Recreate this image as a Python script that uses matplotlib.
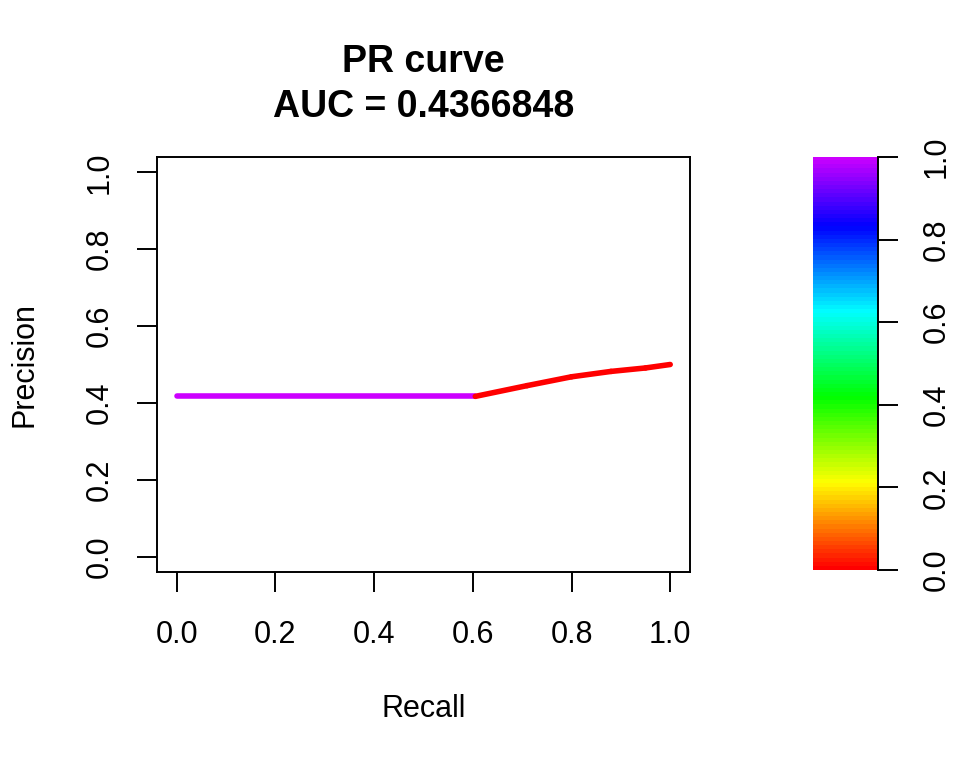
import numpy as np
import matplotlib
matplotlib.use("Agg")
import matplotlib.pyplot as plt
from matplotlib.collections import LineCollection
from matplotlib.colors import ListedColormap, hsv_to_rgb

plt.rcParams['font.family'] = ['Liberation Sans', 'DejaVu Sans']

# puntos de la curva PR
recall = [0.0, 0.605, 0.71, 0.80, 0.88, 0.95, 1.0]
precision = [0.417, 0.417, 0.445, 0.468, 0.482, 0.491, 0.500]
# umbral de cada segmento (color)
umbral = [1.0, 0.0, 0.0, 0.0, 0.0, 0.0]
auc = 0.4366848

ticks = [0.0, 0.2, 0.4, 0.6, 0.8, 1.0]
tick_labels = ['0.0', '0.2', '0.4', '0.6', '0.8', '1.0']

# paleta tipo rainbow de R (hue 0 -> 0.8)
n_col = 100
hues = np.linspace(0, 0.8, n_col)
paleta = ListedColormap(hsv_to_rgb(np.column_stack([hues, np.ones(n_col), np.ones(n_col)])))

fs = 22

fig = plt.figure(figsize=(9.6, 7.68), dpi=100)
ax = fig.add_axes([0.1635, 0.2552, 0.5552, 0.5404])

pts = np.column_stack([recall, precision])
segs = np.stack([pts[:-1], pts[1:]], axis=1)
lc = LineCollection(segs, colors=paleta(np.array(umbral)), linewidths=4, capstyle='round')
ax.add_collection(lc)

ax.set_xlim(-0.04, 1.04)
ax.set_ylim(-0.04, 1.04)
ax.set_xticks(ticks, tick_labels)
ax.set_yticks(ticks, tick_labels)
for lab in ax.get_yticklabels():
    lab.set_rotation(90)
    lab.set_va('center')
ax.tick_params(length=14.5, width=1.4, labelsize=fs)
ax.tick_params(axis='x', pad=20)
ax.tick_params(axis='y', pad=16)
for s in ax.spines.values():
    s.set_linewidth(1.4)

ax.set_xlabel('Recall', fontsize=fs)
ax.xaxis.label.set_va('center')
ax.xaxis.set_label_coords(0.5, -0.33)
ax.set_ylabel('Precision', fontsize=fs)
ax.yaxis.label.set_va('center')
ax.yaxis.set_label_coords(-0.2477, 0.5)

ax.set_title(f'PR curve\nAUC = {auc}', fontsize=27, fontweight='bold', pad=29, linespacing=1.32)

# barra de color
cax = fig.add_axes([0.847, 0.2578, 0.0677, 0.5378])
grad = np.linspace(0, 1, n_col).reshape(-1, 1)
cax.imshow(grad, cmap=paleta, aspect='auto', origin='lower', extent=[0, 1, 0, 1])
cax.set_xlim(0, 1)
cax.set_ylim(0, 1)
cax.set_xticks([])
cax.yaxis.tick_right()
cax.set_yticks(ticks, tick_labels)
for lab in cax.get_yticklabels():
    lab.set_rotation(90)
    lab.set_va('center')
cax.tick_params(length=14.5, width=1.4, labelsize=fs, pad=17)
for nombre, s in cax.spines.items():
    s.set_visible(nombre == 'right')
    s.set_linewidth(1.4)

fig.savefig('out.png', dpi=100)
